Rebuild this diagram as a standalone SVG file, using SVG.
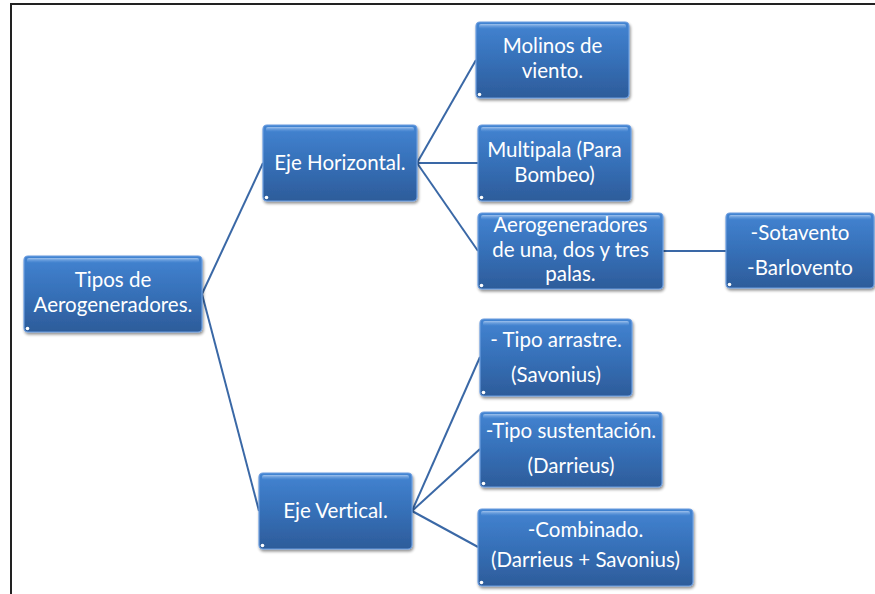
<svg xmlns="http://www.w3.org/2000/svg" width="875" height="594" viewBox="0 0 875 594">
<defs>
<linearGradient id="fillG" x1="0" y1="0" x2="0" y2="1">
<stop offset="0" stop-color="#4384d2"/>
<stop offset="0.5" stop-color="#3670b8"/>
<stop offset="1" stop-color="#2d5c9a"/>
</linearGradient>
<linearGradient id="hiG" x1="0" y1="0" x2="0" y2="1">
<stop offset="0" stop-color="#a9c9f0" stop-opacity="0.9"/>
<stop offset="1" stop-color="#6a9fe0" stop-opacity="0"/>
</linearGradient>
<filter id="sh" x="-10%" y="-10%" width="125%" height="130%">
<feGaussianBlur in="SourceAlpha" stdDeviation="1.5"/>
<feOffset dx="1" dy="2" result="b"/>
<feComponentTransfer><feFuncA type="linear" slope="0.45"/></feComponentTransfer>
<feMerge><feMergeNode/><feMergeNode in="SourceGraphic"/></feMerge>
</filter>
</defs>
<style>
.box{fill:url(#fillG);stroke:#6d9ee0;stroke-width:1.2;filter:url(#sh)}
.hi{fill:url(#hiG)}
.dot{fill:#ffffff}
.t{font-family:Lato,"Open Sans","Liberation Sans",sans-serif;font-size:20.5px;fill:#ffffff;text-anchor:middle;font-variant-ligatures:none}
.c{stroke:#3a68a6;stroke-width:2;fill:none}
.frame{stroke:#222222;stroke-width:2;fill:none}
</style>
<rect width="875" height="594" fill="#ffffff"/>
<path class="frame" d="M11,594 V4 H875"/>
<g id="connectors">
<line class="c" x1="202" y1="294" x2="263" y2="163"/>
<line class="c" x1="202" y1="294" x2="259" y2="511"/>
<line class="c" x1="417" y1="163" x2="476" y2="60"/>
<line class="c" x1="417" y1="163" x2="478" y2="163"/>
<line class="c" x1="417" y1="163" x2="478" y2="251"/>
<line class="c" x1="663" y1="251" x2="726" y2="251"/>
<line class="c" x1="412" y1="511" x2="480" y2="357"/>
<line class="c" x1="412" y1="511" x2="480" y2="449"/>
<line class="c" x1="412" y1="511" x2="478" y2="547"/>
</g>
<g id="tipos">
<rect class="box" x="24" y="256" width="178" height="76" rx="4"/>
<rect class="hi" x="27" y="258" width="172" height="5" rx="2"/>
<circle class="dot" cx="27.5" cy="328.5" r="1.8"/>
<text class="t" x="113" y="287">Tipos de</text>
<text class="t" x="113" y="312">Aerogeneradores.</text>
</g>
<g id="eje-horizontal">
<rect class="box" x="263" y="125" width="154" height="76" rx="4"/>
<rect class="hi" x="266" y="127" width="148" height="5" rx="2"/>
<circle class="dot" cx="266.5" cy="197.5" r="1.8"/>
<text class="t" x="340" y="170">Eje Horizontal.</text>
</g>
<g id="eje-vertical">
<rect class="box" x="259" y="473" width="153" height="76" rx="4"/>
<rect class="hi" x="262" y="475" width="147" height="5" rx="2"/>
<circle class="dot" cx="262.5" cy="545.5" r="1.8"/>
<text class="t" x="335.5" y="518">Eje Vertical.</text>
</g>
<g id="molinos">
<rect class="box" x="476" y="22" width="153" height="76" rx="4"/>
<rect class="hi" x="479" y="24" width="147" height="5" rx="2"/>
<circle class="dot" cx="479.5" cy="94.5" r="1.8"/>
<text class="t" x="552.5" y="53">Molinos de</text>
<text class="t" x="552.5" y="78">viento.</text>
</g>
<g id="multipala">
<rect class="box" x="478" y="125" width="153" height="76" rx="4"/>
<rect class="hi" x="481" y="127" width="147" height="5" rx="2"/>
<circle class="dot" cx="481.5" cy="197.5" r="1.8"/>
<text class="t" x="554.5" y="157">Multipala (Para</text>
<text class="t" x="554.5" y="182">Bombeo)</text>
</g>
<g id="aerogeneradores">
<rect class="box" x="478" y="213" width="185" height="76" rx="4"/>
<rect class="hi" x="481" y="215" width="179" height="5" rx="2"/>
<circle class="dot" cx="481.5" cy="285.5" r="1.8"/>
<text class="t" x="570.5" y="232">Aerogeneradores</text>
<text class="t" x="570.5" y="257">de una, dos y tres</text>
<text class="t" x="570.5" y="281">palas.</text>
</g>
<g id="sotavento">
<rect class="box" x="726" y="213" width="148" height="75" rx="4"/>
<rect class="hi" x="729" y="215" width="142" height="5" rx="2"/>
<circle class="dot" cx="729.5" cy="284.5" r="1.8"/>
<text class="t" x="800" y="240">-Sotavento</text>
<text class="t" x="800" y="275">-Barlovento</text>
</g>
<g id="arrastre">
<rect class="box" x="480" y="319" width="152" height="77" rx="4"/>
<rect class="hi" x="483" y="321" width="146" height="5" rx="2"/>
<circle class="dot" cx="483.5" cy="392.5" r="1.8"/>
<text class="t" x="556" y="347">- Tipo arrastre.</text>
<text class="t" x="556" y="382">(Savonius)</text>
</g>
<g id="sustentacion">
<rect class="box" x="480" y="412" width="182" height="75" rx="4"/>
<rect class="hi" x="483" y="414" width="176" height="5" rx="2"/>
<circle class="dot" cx="483.5" cy="483.5" r="1.8"/>
<text class="t" x="571" y="438">-Tipo sustentación.</text>
<text class="t" x="571" y="473">(Darrieus)</text>
</g>
<g id="combinado">
<rect class="box" x="478" y="509" width="215" height="77" rx="4"/>
<rect class="hi" x="481" y="511" width="209" height="5" rx="2"/>
<circle class="dot" cx="481.5" cy="582.5" r="1.8"/>
<text class="t" x="585.5" y="537">-Combinado.</text>
<text class="t" x="585.5" y="567">(Darrieus + Savonius)</text>
</g>
</svg>
